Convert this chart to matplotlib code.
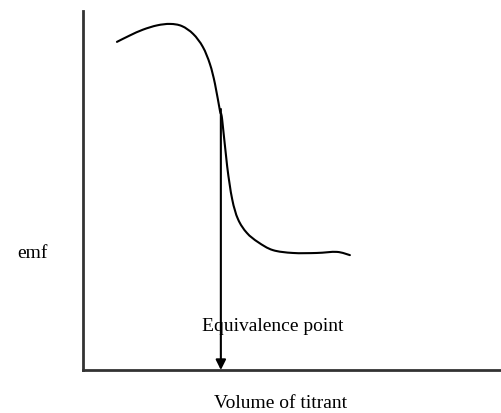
import matplotlib
matplotlib.use("Agg")
import matplotlib.pyplot as plt
from matplotlib.path import Path
from matplotlib.patches import PathPatch

# courbe de titrage (unites arbitraires)
volume = [8.1, 11.2, 14.3, 17.7, 20.8, 23.6, 26.3, 28.6, 30.3, 31.5, 32.7,
          33.2, 34.4, 35.6, 37.0, 39.1, 41.8, 45.3, 50.1, 55.8, 60.6, 63.7]
emf = [91.4, 93.2, 94.8, 96.0, 96.4, 95.8, 93.6, 90.0, 85.2, 79.7, 72.1,
       69.9, 56.8, 47.6, 42.0, 38.2, 35.6, 33.4, 32.6, 32.6, 32.9, 32.0]

# point d'equivalence
v_eq = 32.9
emf_eq = 72.7

plt.rcParams['font.family'] = ['Liberation Serif', 'DejaVu Serif']

fig = plt.figure(figsize=(5.02, 4.14), dpi=100)
ax = fig.add_axes([83 / 502, 43 / 414, 419 / 502, 359 / 414])


def smooth_path(xs, ys):
    # trace lisse passant par les points (Catmull-Rom -> Bezier cubique)
    pts = list(zip(xs, ys))
    verts = [pts[0]]
    codes = [Path.MOVETO]
    for i in range(len(pts) - 1):
        p0 = pts[i - 1] if i > 0 else pts[i]
        p1 = pts[i]
        p2 = pts[i + 1]
        p3 = pts[i + 2] if i + 2 < len(pts) else pts[i + 1]
        c1 = (p1[0] + (p2[0] - p0[0]) / 6, p1[1] + (p2[1] - p0[1]) / 6)
        c2 = (p2[0] - (p3[0] - p1[0]) / 6, p2[1] - (p3[1] - p1[1]) / 6)
        verts += [c1, c2, p2]
        codes += [Path.CURVE4] * 3
    return Path(verts, codes)


ax.add_patch(PathPatch(smooth_path(volume, emf), facecolor='none',
                       edgecolor='black', linewidth=1.5, capstyle='round'))
ax.annotate('', xy=(v_eq, 0), xytext=(v_eq, emf_eq),
            arrowprops=dict(arrowstyle='-|>', color='black', lw=1.5,
                            mutation_scale=15, shrinkA=0, shrinkB=0))
ax.text(28.4, 12.3, 'Equivalence point', fontsize=14, ha='left', va='center')

ax.set_xlim(0, 100)
ax.set_ylim(0, 100)
ax.set_xticks([])
ax.set_yticks([])
for side in ['top', 'right']:
    ax.spines[side].set_visible(False)
for side in ['left', 'bottom']:
    ax.spines[side].set_color('#333333')
    ax.spines[side].set_linewidth(2)

fig.text(32 / 502, 1 - 254 / 414, 'emf', fontsize=14, ha='center', va='center')
fig.text(281 / 502, 1 - 404 / 414, 'Volume of titrant', fontsize=14,
         ha='center', va='center')

fig.savefig('out.png', dpi=100)
